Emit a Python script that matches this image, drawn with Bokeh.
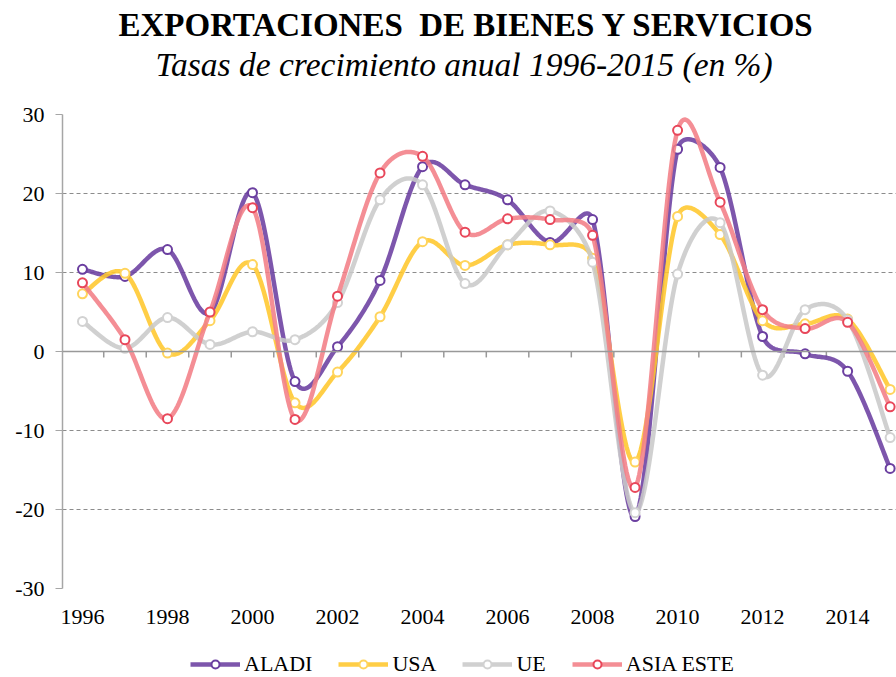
import numpy as np
from bokeh.plotting import figure
from bokeh.layouts import column
from bokeh.models import (Range1d, FixedTicker, Title, Span, Legend, LegendItem)
from bokeh.embed import file_html
from bokeh.resources import INLINE

# ---------------- data ----------------
years = list(range(1996, 2016))
aladi = [10.4, 9.5, 12.9, 4.9, 20.1, -3.8, 0.6, 9.0, 23.4, 21.1, 19.2, 13.8, 16.7, -20.9, 25.6, 23.3, 1.9, -0.3, -2.5, -14.8]
usa = [7.3, 9.9, -0.2, 3.9, 11.0, -6.5, -2.6, 4.4, 13.9, 10.9, 13.5, 13.5, 11.8, -14.0, 17.1, 14.8, 3.9, 3.5, 4.1, -4.8]
ue = [3.8, 0.4, 4.3, 0.9, 2.5, 1.5, 6.2, 19.2, 21.1, 8.6, 13.5, 17.8, 11.3, -20.4, 9.8, 16.3, -3.0, 5.3, 4.0, -10.9]
asia_este = [8.7, 1.5, -8.5, 5.0, 18.2, -8.6, 7.0, 22.6, 24.7, 15.1, 16.8, 16.7, 14.7, -17.2, 28.0, 18.9, 5.3, 2.9, 3.7, -7.0]

series_names = ["ALADI", "USA", "UE", "ASIA ESTE"]
series_values = [aladi, usa, ue, asia_este]
x_tick_labels = years[::2]
y_ticks = [-30, -20, -10, 0, 10, 20, 30]

title_text = "EXPORTACIONES\u00a0 DE BIENES Y SERVICIOS"
subtitle_text = "Tasas de crecimiento anual 1996-2015 (en %)"

# ---------------- styles ----------------
line_colors = ["#6B3FA0", "#FFC72C", "#C9C9C9", "#F27E86"]
marker_colors = ["#6B3FA0", "#FFD45C", "#D2D2D2", "#E8475A"]
FONT = "Liberation Serif"
PX_X = 42.5   # approx pixels per year (for spline shape)
PX_Y = 7.9    # approx pixels per unit (for spline shape)


def smooth(xs, ys, n=30):
    """Spreadsheet-style smoothed line: cubic Bezier segments whose control
    vectors are (P[i+1]-P[i-1])/6, capped at half the segment length."""
    P = np.column_stack([np.asarray(xs, float), np.asarray(ys, float)])
    S = np.array([PX_X, PX_Y])
    N = len(P)
    t = np.linspace(0, 1, n, endpoint=False)[:, None]
    out = []
    for i in range(N - 1):
        p0 = P[i - 1] if i > 0 else P[i]
        p1, p2 = P[i], P[i + 1]
        p3 = P[i + 2] if i + 2 < N else P[i + 1]
        d12 = np.linalg.norm((p2 - p1) * S)
        v1 = p2 - p0
        v2 = p3 - p1
        l1 = np.linalg.norm(v1 * S)
        l2 = np.linalg.norm(v2 * S)
        f1 = 1 / 6 if l1 / 6 <= d12 / 2 else d12 / (2 * l1)
        f2 = 1 / 6 if l2 / 6 <= d12 / 2 else d12 / (2 * l2)
        c1 = p1 + f1 * v1
        c2 = p2 - f2 * v2
        b = ((1 - t) ** 3) * p1 + 3 * ((1 - t) ** 2) * t * c1 + 3 * (1 - t) * t ** 2 * c2 + t ** 3 * p2
        out.append(b)
    out.append(P[-1][None, :])
    out = np.vstack(out)
    return out[:, 0], out[:, 1]


p = figure(width=896, height=640,
           x_range=Range1d(1995.53, 2015.15), y_range=Range1d(-30, 30),
           output_backend="svg", toolbar_location=None, title=None,
           min_border_left=62, min_border_right=0,
           min_border_top=114, min_border_bottom=52)
p.outline_line_color = None
p.background_fill_color = "white"
p.border_fill_color = "white"

# titles
sub = Title(text=subtitle_text, text_font=FONT, text_font_size="33.5px",
            text_font_style="italic", text_color="#000000",
            align="left", offset=93, standoff=63)
p.add_layout(sub, "above")
main = Title(text=title_text, text_font=FONT, text_font_size="33px",
             text_font_style="bold", text_color="#000000",
             align="left", offset=56, standoff=-60)
p.add_layout(main, "above")

# grid
p.xgrid.visible = False
p.ygrid.ticker = FixedTicker(ticks=[v for v in y_ticks if v != 0])
p.ygrid.grid_line_color = "#8C8C8C"
p.ygrid.grid_line_dash = "4 3"
p.ygrid.grid_line_width = 1

# y axis
p.yaxis.ticker = FixedTicker(ticks=y_ticks)
p.yaxis.major_label_overrides = {v: str(v) for v in y_ticks}
p.yaxis.axis_line_color = "#A6A6A6"
p.yaxis.axis_line_width = 1.5
p.yaxis.major_tick_line_color = "#A6A6A6"
p.yaxis.major_tick_out = 7
p.yaxis.major_tick_in = 0
p.yaxis.minor_tick_line_color = None
p.yaxis.major_label_text_font = FONT
p.yaxis.major_label_text_font_size = "22px"
p.yaxis.major_label_text_color = "#000000"
p.yaxis.major_label_standoff = 11

# x axis (labels only)
p.xaxis.ticker = FixedTicker(ticks=x_tick_labels)
p.xaxis.axis_line_color = None
p.xaxis.major_tick_line_color = None
p.xaxis.minor_tick_line_color = None
p.xaxis.major_label_text_font = FONT
p.xaxis.major_label_text_font_size = "22px"
p.xaxis.major_label_text_color = "#000000"
p.xaxis.major_label_standoff = 15

# zero line with category ticks
p.add_layout(Span(location=0, dimension="width", line_color="#999999", line_width=1.5))
tick_x = [y + 0.5 for y in years[:-1]]
p.segment(x0=tick_x, y0=[0] * len(tick_x), x1=tick_x, y1=[-0.75] * len(tick_x),
          line_color="#999999", line_width=1.5)

for name, vals, lc, mc in zip(series_names, series_values, line_colors, marker_colors):
    sx, sy = smooth(years, vals)
    p.line(sx, sy, line_color=lc, line_width=4.5, line_alpha=0.88, line_join="round")
    p.scatter(years, vals, marker="circle", size=9, fill_color="white",
              line_color=mc, line_width=2)

# ---------------- legend strip ----------------
lg = figure(width=896, height=37, x_range=Range1d(0, 1), y_range=Range1d(0, 1),
            output_backend="svg", toolbar_location=None, title=None,
            x_axis_type=None, y_axis_type=None,
            min_border_left=0, min_border_right=0, min_border_top=0, min_border_bottom=0)
lg.outline_line_color = None
lg.grid.visible = False
lg.background_fill_color = "white"
lg.border_fill_color = "white"

items = []
for name, vals, lc, mc in zip(series_names, series_values, line_colors, marker_colors):
    # legend-only renderers (their single point lies outside this strip's range)
    lr = lg.line(x=[years[0]], y=[vals[0]], line_color=lc, line_width=4.5, line_alpha=0.88)
    sr = lg.scatter(x=[years[0]], y=[vals[0]], marker="circle", size=9, fill_color="white",
                    line_color=mc, line_width=2)
    items.append(LegendItem(label=name, renderers=[lr, sr]))

legend = Legend(items=items, orientation="horizontal", location=(128, 0),
                glyph_width=50, glyph_height=20, label_height=20,
                label_standoff=4, spacing=26, padding=0, margin=0,
                label_text_font=FONT, label_text_font_size="22px",
                label_text_color="#000000",
                border_line_color=None, background_fill_alpha=0)
lg.add_layout(legend, "center")

layout = column(p, lg, spacing=0)
open("out.html", "w").write(file_html(layout, INLINE))
